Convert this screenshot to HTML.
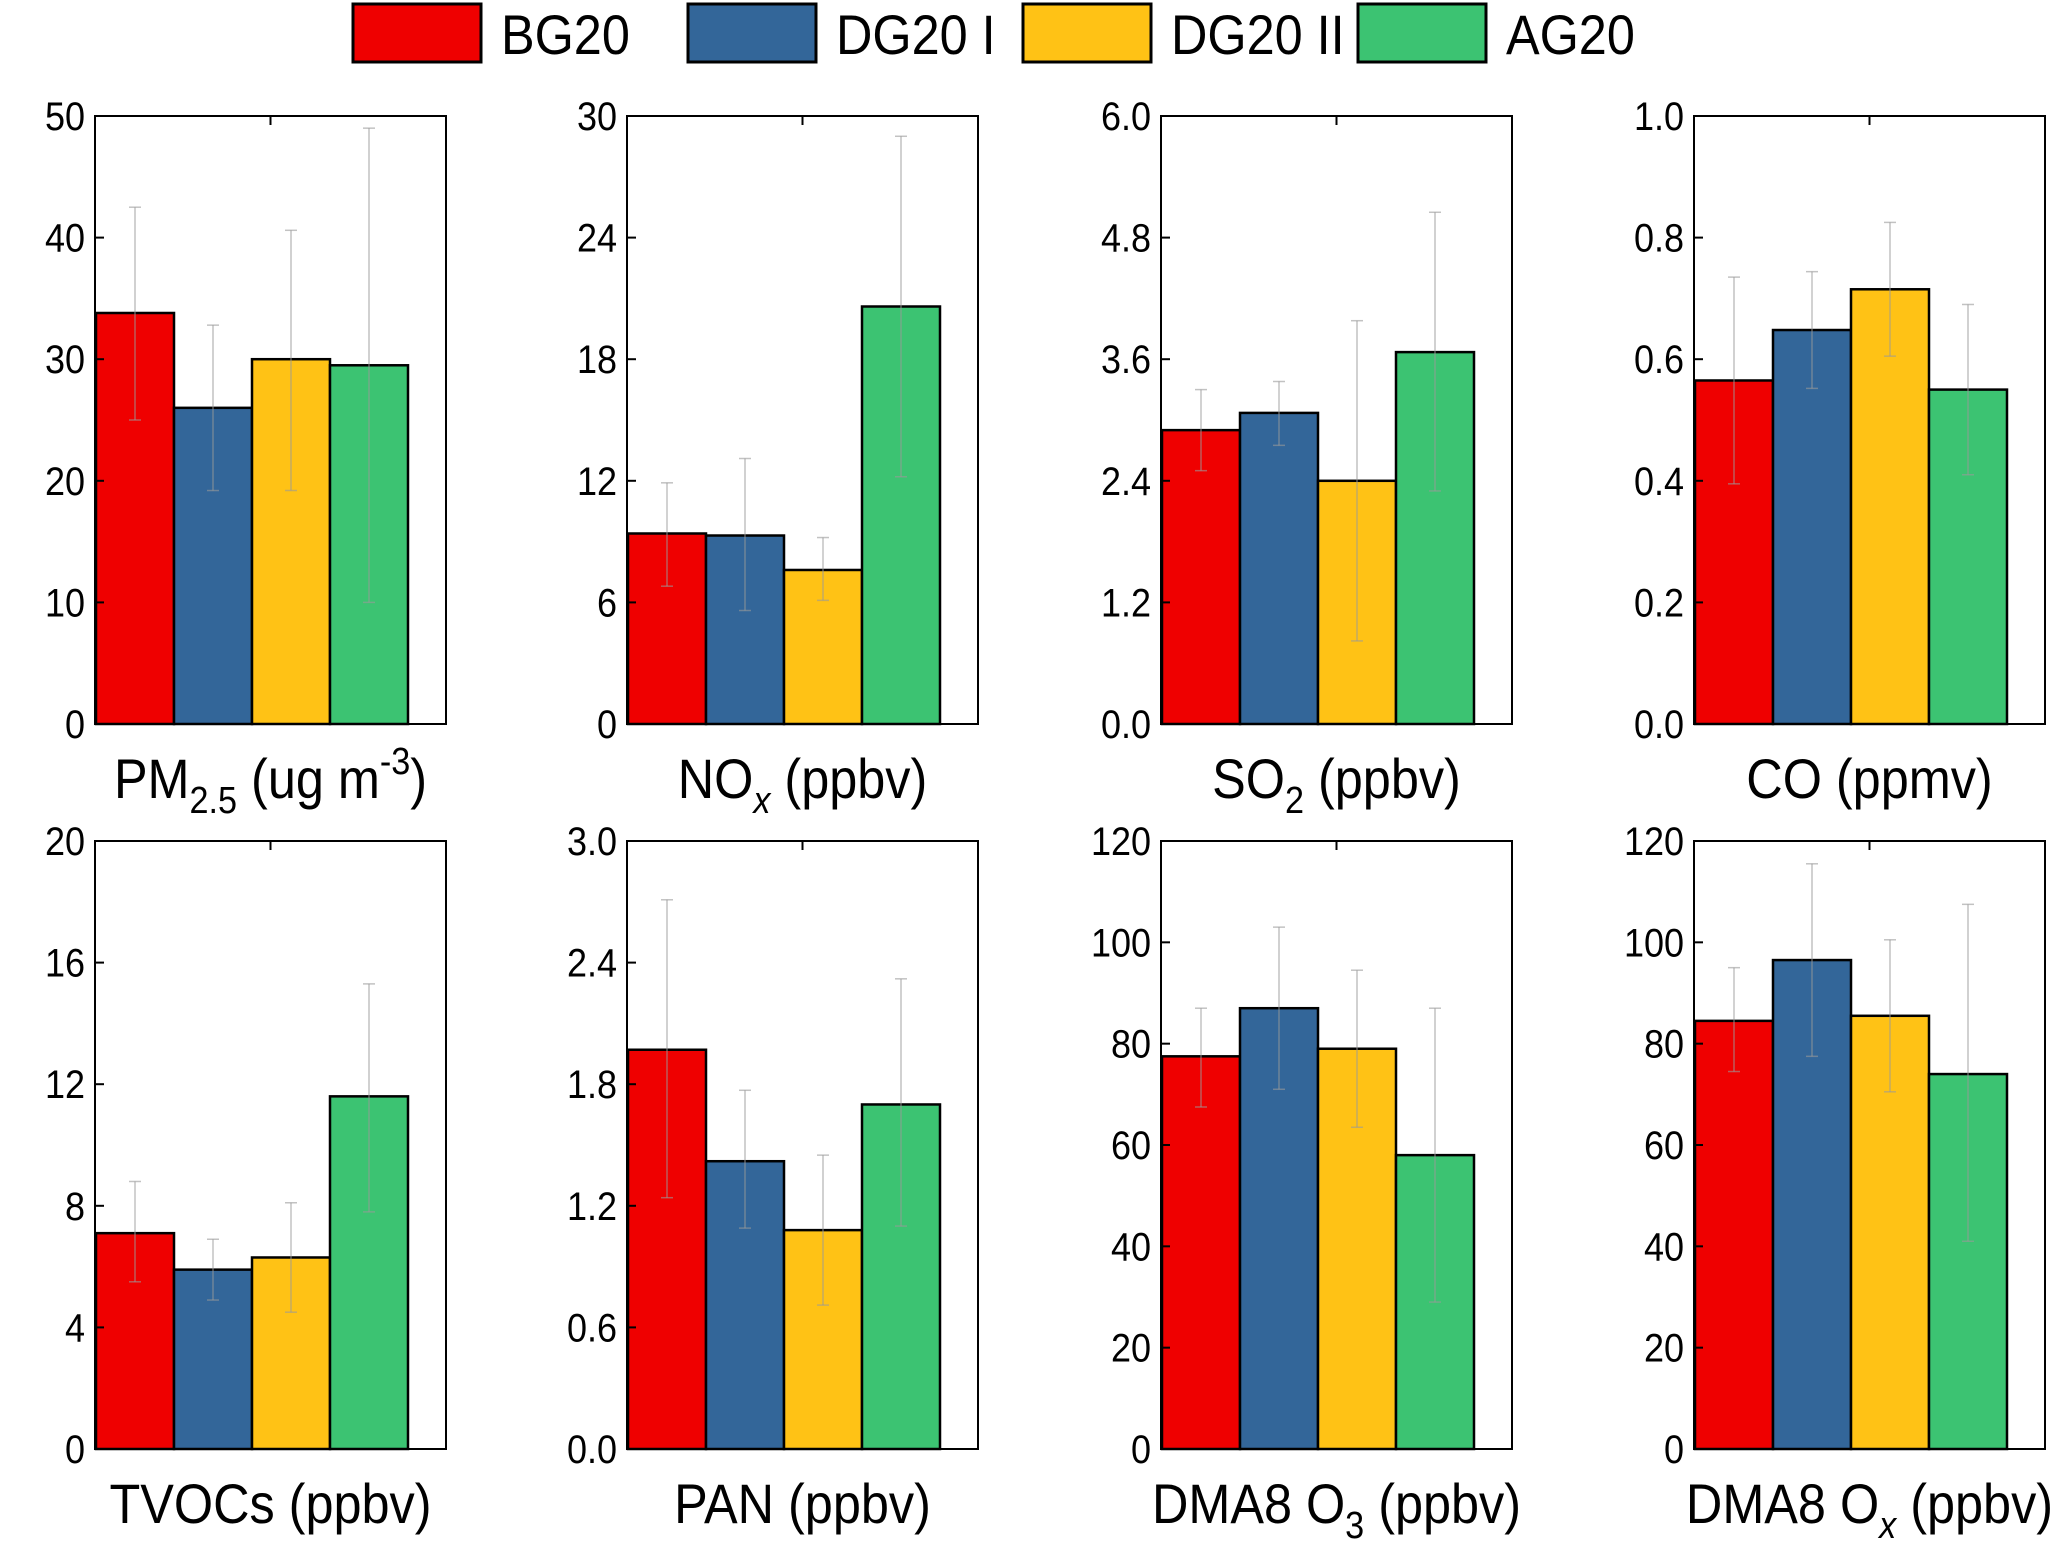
<!DOCTYPE html>
<html><head><meta charset="utf-8"><style>
html,body{margin:0;padding:0;background:#fff;}
svg{display:block;font-family:"Liberation Sans",Arial,sans-serif;}
</style></head><body>
<svg id="chart" width="2067" height="1546" viewBox="0 0 2067 1546" xmlns="http://www.w3.org/2000/svg">
<g id="legend"></g>
<g id="panels"></g>
</svg>
<script>
const series = ["BG20", "DG20 I", "DG20 II", "AG20"];
const colors = ["#ef0000", "#336699", "#ffc215", "#3cc372"];
const titles = ["PM|2.5| (ug m|-3|)", "NO|x| (ppbv)", "SO|2| (ppbv)", "CO (ppmv)", "TVOCs (ppbv)", "PAN (ppbv)", "DMA8 O|3| (ppbv)", "DMA8 O|x| (ppbv)"];
const yMax = [50, 30, 6, 1, 20, 3, 120, 120];
const tickLabels = [
 ["0","10","20","30","40","50"],
 ["0","6","12","18","24","30"],
 ["0.0","1.2","2.4","3.6","4.8","6.0"],
 ["0.0","0.2","0.4","0.6","0.8","1.0"],
 ["0","4","8","12","16","20"],
 ["0.0","0.6","1.2","1.8","2.4","3.0"],
 ["0","20","40","60","80","100","120"],
 ["0","20","40","60","80","100","120"]
];
const means = [
 [33.8, 26.0, 30.0, 29.5],
 [9.4, 9.3, 7.6, 20.6],
 [2.9, 3.07, 2.4, 3.67],
 [0.565, 0.648, 0.715, 0.55],
 [7.1, 5.9, 6.3, 11.6],
 [1.97, 1.42, 1.08, 1.70],
 [77.5, 87, 79, 58],
 [84.5, 96.5, 85.5, 74]
];
const errLow = [
 [25, 19.2, 19.2, 10],
 [6.8, 5.6, 6.1, 12.2],
 [2.5, 2.75, 0.82, 2.3],
 [0.395, 0.552, 0.605, 0.41],
 [5.5, 4.9, 4.5, 7.8],
 [1.24, 1.09, 0.71, 1.1],
 [67.5, 71, 63.5, 29],
 [74.5, 77.5, 70.5, 41]
];
const errHigh = [
 [42.5, 32.8, 40.6, 49],
 [11.9, 13.1, 9.2, 29],
 [3.3, 3.38, 3.98, 5.05],
 [0.735, 0.744, 0.825, 0.69],
 [8.8, 6.9, 8.1, 15.3],
 [2.71, 1.77, 1.45, 2.32],
 [87, 103, 94.5, 87],
 [95, 115.5, 100.5, 107.5]
];
const NS = "http://www.w3.org/2000/svg";
function mk(tag, attrs, parent){ const e=document.createElementNS(NS,tag); for(const k in attrs) e.setAttribute(k,attrs[k]); parent.appendChild(e); return e; }

const lg = document.getElementById('legend');
const legX = [353, 688, 1023, 1358];
series.forEach((s,i)=>{
  const g = mk('g',{},lg);
  
  
  const r = mk('rect',{x:legX[i],y:4,width:128,height:58,fill:colors[i],stroke:'#000','stroke-width':3},g);
  
  
  const t = mk('text',{transform:'translate('+(legX[i]+148)+',54) scale(0.9,1)','font-size':56,fill:'#000'},g);
  t.textContent = s;
  
  
});

const lefts = [95, 627, 1161, 1694];
const tops = [116, 841];
const W = 351, H = 608;
const pg = document.getElementById('panels');
titles.forEach((title,p)=>{
  const col = p%4, row = Math.floor(p/4);
  const x0 = lefts[col], y0 = tops[row];
  const g = mk('g',{},pg);
  
  
  const yS = v => y0 + H - v / yMax[p] * H;
  const bw = 78, bx0 = x0 + 1;
  means[p].forEach((v,i)=>{
    const r = mk('rect',{x:bx0+i*bw,y:yS(v),width:bw,height:yS(0)-yS(v),fill:colors[i],stroke:'#000','stroke-width':2.5},g);
    
    
  });
  means[p].forEach((v,i)=>{
    const cx = bx0+i*bw+bw/2;
    const eg = mk('g',{stroke:'#999','stroke-opacity':0.6,'stroke-width':1.5},g);
    
    
    mk('line',{x1:cx,x2:cx,y1:yS(errLow[p][i]),y2:yS(errHigh[p][i])},eg);
    mk('line',{x1:cx-6,x2:cx+6,y1:yS(errLow[p][i]),y2:yS(errLow[p][i])},eg);
    mk('line',{x1:cx-6,x2:cx+6,y1:yS(errHigh[p][i]),y2:yS(errHigh[p][i])},eg);
  });
  const fr = mk('rect',{x:x0,y:y0,width:W,height:H,fill:'none',stroke:'#000','stroke-width':2},g);
  
  
  mk('line',{x1:x0+W/2,x2:x0+W/2,y1:y0,y2:y0+9,stroke:'#000','stroke-width':2},g);
  const tl = tickLabels[p];
  tl.forEach((lab,k)=>{
    const v = yMax[p]*k/(tl.length-1);
    const y = yS(v);
    mk('line',{x1:x0,x2:x0+9,y1:y,y2:y,stroke:'#000','stroke-width':2},g);
    const t = mk('text',{transform:'translate('+(x0-10)+','+(y+14)+') scale(0.9,1)','font-size':40,'text-anchor':'end',fill:'#000'},g);
    t.textContent = lab;
    
    
  });
  const t = mk('text',{transform:'translate('+(x0+W/2)+','+(y0+H+74)+') scale(0.9,1)','font-size':56,'text-anchor':'middle',fill:'#000'},g);
  
  
  const parts = title.split('|');
  parts.forEach((s,k)=>{
    if(!s) return;
    const ts = mk('tspan',{},t);
    if(k%2===1){
      const sup = s.startsWith('-');
      ts.setAttribute('font-size',38);
      ts.setAttribute('dy', sup ? -24 : 15);
      if(s==='x') ts.setAttribute('font-style','italic');
    } else if(k>0){
      const prevSup = parts[k-1].startsWith('-');
      ts.setAttribute('dy', prevSup ? 24 : -15);
    }
    ts.textContent = s;
  });
});
</script>
</body></html>
